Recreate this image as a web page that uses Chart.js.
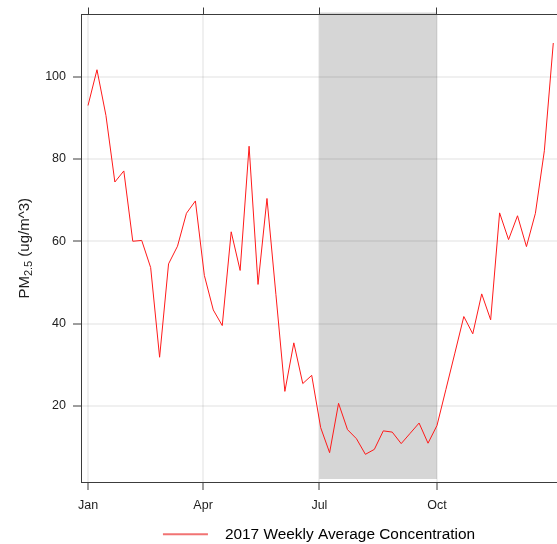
<!DOCTYPE html>
<html>
<head>
<meta charset="utf-8">
<title>PM2.5 weekly average, 2017</title>
<script src="https://cdn.jsdelivr.net/npm/chart.js@4.4.1/dist/chart.umd.min.js"></script>
<style>
  html, body { margin: 0; padding: 0; background: #ffffff; overflow: hidden; }
  #wrap { width: 557px; height: 544px; }
</style>
</head>
<body>
<div id="wrap"><canvas id="chart" width="557" height="544"></canvas></div>
<script>
// Week start dates (2017) and the weekly average PM2.5 concentration for each week
const weekStarts = [
  '2017-01-01','2017-01-08','2017-01-15','2017-01-22','2017-01-29',
  '2017-02-05','2017-02-12','2017-02-19','2017-02-26',
  '2017-03-05','2017-03-12','2017-03-19','2017-03-26',
  '2017-04-02','2017-04-09','2017-04-16','2017-04-23','2017-04-30',
  '2017-05-07','2017-05-14','2017-05-21','2017-05-28',
  '2017-06-04','2017-06-11','2017-06-18','2017-06-25',
  '2017-07-02','2017-07-09','2017-07-16','2017-07-23','2017-07-30',
  '2017-08-06','2017-08-13','2017-08-20','2017-08-27',
  '2017-09-03','2017-09-10','2017-09-17','2017-09-24',
  '2017-10-01','2017-10-08','2017-10-15','2017-10-22','2017-10-29',
  '2017-11-05','2017-11-12','2017-11-19','2017-11-26',
  '2017-12-03','2017-12-10','2017-12-17','2017-12-24','2017-12-31'
];
const weeklyPM25 = [
  93.0, 101.7, 90.6, 74.4, 77.1,
  60.0, 60.2, 53.6, 31.8,
  54.5, 58.8, 66.8, 69.8,
  51.7, 43.3, 39.5, 62.3, 52.9,
  83.1, 49.5, 70.4, 47.0,
  23.5, 35.3, 25.4, 27.4,
  14.7, 8.6, 20.6, 14.2, 12.0,
  8.2, 9.4, 13.9, 13.6,
  10.8, 13.3, 15.8, 10.9,
  15.2, 24.0, 32.8, 41.7, 37.5,
  47.2, 40.9, 66.9, 60.4,
  66.2, 58.7, 66.8, 82.0, 108.2
];

// Axis ticks
const monthTickDates = ['2017-01-01', '2017-04-01', '2017-07-01', '2017-10-01'];
const monthTickLabels = ['Jan', 'Apr', 'Jul', 'Oct'];
const yTickValues = [20, 40, 60, 80, 100];

// Summer period highlighted in grey
const shadeFrom = '2017-07-01';
const shadeTo = '2017-10-01';

const seriesLabel = '2017 Weekly Average Concentration';

// ---- helpers ----
const YEAR_START = Date.UTC(2017, 0, 1);
function dayOfYear(s) {
  const [y, m, d] = s.split('-').map(Number);
  return (Date.UTC(y, m - 1, d) - YEAR_START) / 86400000;
}
const monthTickDays = monthTickDates.map(dayOfYear);
const points = weekStarts.map((d, i) => ({ x: dayOfYear(d), y: weeklyPM25[i] }));

const FONT = '"Liberation Sans", Arial, Helvetica, sans-serif';
const AXIS = '#3c3c3c';
const TEXT = '#1e1e1e';
const GRID = 'rgba(0,0,0,0.06)';

const X_MIN = -5.5, X_MAX = 366.9;
const Y_MIN = 1.47, Y_MAX = 115.13;

function monthLabel(v) {
  const i = monthTickDays.indexOf(v);
  return i >= 0 ? monthTickLabels[i] : '';
}

// Grey band behind the grid for the summer months
const shadePlugin = {
  id: 'summerShade',
  beforeDraw(chart) {
    const { ctx, chartArea: a, scales: { x } } = chart;
    const x0 = x.getPixelForValue(dayOfYear(shadeFrom));
    const x1 = x.getPixelForValue(dayOfYear(shadeTo));
    ctx.save();
    ctx.fillStyle = '#d6d6d6';
    ctx.fillRect(x0, a.top - 2, x1 - x0, (a.bottom - 3) - (a.top - 2));
    ctx.restore();
  }
};

// Y axis title with subscript: PM2.5 (ug/m^3)
const yTitlePlugin = {
  id: 'yTitle',
  afterDraw(chart) {
    const { ctx, chartArea: a } = chart;
    const mainFont = '15px ' + FONT;
    const subFont = '11px ' + FONT;
    const parts = [
      { t: 'PM', f: mainFont, dy: 0 },
      { t: '2.5', f: subFont, dy: 3 },
      { t: ' (ug/m^3)', f: mainFont, dy: 0 }
    ];
    ctx.save();
    let total = 0;
    parts.forEach(p => { ctx.font = p.f; p.w = ctx.measureText(p.t).width; total += p.w; });
    ctx.translate(28.5, (a.top + a.bottom) / 2);
    ctx.rotate(-Math.PI / 2);
    ctx.fillStyle = TEXT;
    ctx.textBaseline = 'alphabetic';
    ctx.textAlign = 'left';
    let cx = -total / 2;
    parts.forEach(p => { ctx.font = p.f; ctx.fillText(p.t, cx, p.dy); cx += p.w; });
    ctx.restore();
  }
};

new Chart(document.getElementById('chart'), {
  type: 'line',
  data: {
    datasets: [{
      label: seriesLabel,
      data: points,
      borderColor: '#ff1a1a',
      borderWidth: 1,
      pointRadius: 0,
      tension: 0,
      fill: false
    }]
  },
  plugins: [shadePlugin, yTitlePlugin],
  options: {
    responsive: false,
    animation: false,
    devicePixelRatio: 1,
    layout: { padding: { left: 0, right: 0, top: 0, bottom: -8 } },
    plugins: {
      tooltip: { enabled: false },
      legend: {
        display: true,
        position: 'bottom',
        fullSize: false,
        align: 'center',
        labels: {
          boxWidth: 54.3,
          boxHeight: 0,
          padding: 0,
          color: '#222222',
          font: { family: FONT, size: 15.4 },
          generateLabels: () => [{
            text: seriesLabel,
            fillStyle: 'rgba(0,0,0,0)',
            strokeStyle: 'rgba(238,90,90,0.85)',
            lineWidth: 2,
            lineDash: [45, 400],
            lineCap: 'butt',
            hidden: false,
            datasetIndex: 0
          }]
        }
      }
    },
    scales: {
      x: {
        type: 'linear',
        position: 'bottom',
        min: X_MIN,
        max: X_MAX,
        afterBuildTicks: s => { s.ticks = monthTickDays.map(v => ({ value: v })); },
        afterFit: s => { s.height = 44.6; },
        ticks: {
          autoSkip: false, maxRotation: 0, padding: 8,
          color: TEXT, font: { family: FONT, size: 12.5 },
          callback: v => monthLabel(v)
        },
        grid: { color: GRID, lineWidth: 2, tickLength: 8, tickColor: AXIS, tickWidth: 1 },
        border: { display: true, color: AXIS, width: 1 }
      },
      xTop: {
        type: 'linear',
        position: 'top',
        min: X_MIN,
        max: X_MAX,
        afterBuildTicks: s => { s.ticks = monthTickDays.map(v => ({ value: v })); },
        afterFit: s => { s.height = 14; },
        ticks: { display: false },
        grid: { drawOnChartArea: false, tickLength: 7, tickColor: AXIS, tickWidth: 1 },
        border: { display: true, color: AXIS, width: 1 }
      },
      y: {
        type: 'linear',
        position: 'left',
        min: Y_MIN,
        max: Y_MAX,
        afterBuildTicks: s => { s.ticks = yTickValues.map(v => ({ value: v })); },
        afterFit: s => { s.width = 81; },
        ticks: { padding: 7, color: TEXT, font: { family: FONT, size: 12.5 } },
        grid: { color: GRID, lineWidth: 2, tickLength: 8, tickColor: AXIS, tickWidth: 1 },
        border: { display: true, color: AXIS, width: 1 }
      }
    }
  }
});
</script>
</body>
</html>
